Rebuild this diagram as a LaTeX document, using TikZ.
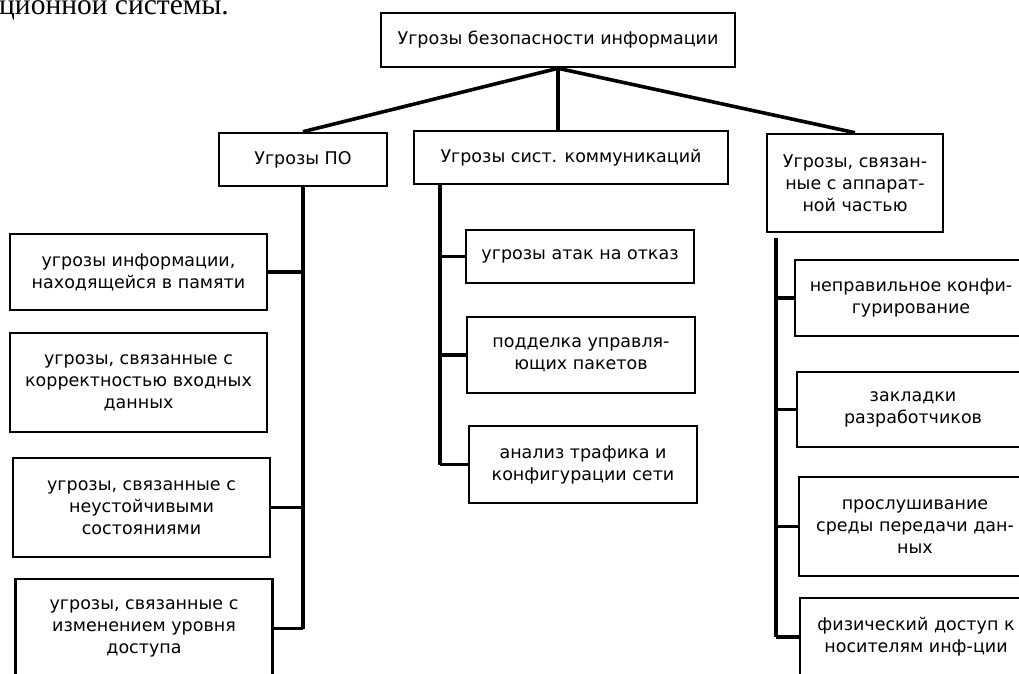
\documentclass[tikz,border=0pt]{standalone}
\usepackage{fontspec}
\setmainfont{DejaVu Sans}
\newfontfamily\pagefont{Liberation Serif}
\usetikzlibrary{positioning}

\begin{document}
\begin{tikzpicture}[
		x=1pt, y=-1pt,
		block/.style 2 args={
			draw,
			rectangle,
			line width=2.6pt,
			align=center,
			inner sep=2pt,
			minimum width=#1,
			minimum height=#2,
		},
		link/.style={line width=3.6pt},
		font=\fontsize{17.5}{22}\selectfont
		]
		\useasboundingbox (0,0) rectangle (1019,673);
		% Draw the cut text of the page
		\node[anchor=base west, inner sep=0pt, font=\pagefont\fontsize{29.5}{30}\selectfont] (pagetext) at (-1,14.5) {ционной системы.};
		% Draw the root and the three groups
		\node [block={354}{54}] (top) at (558,40) {Угрозы безопасности информации};
		\node [block={168}{53}] (po) at (303,159.5) {Угрозы ПО};
		\node [block={314}{53}] (comm) at (571,157.5) {Угрозы сист. коммуникаций};
		\node [block={176}{98}] (hw) at (855,183) {Угрозы, связан-\\ные с аппарат-\\ной частью};
		\draw[link] (top.south) -- (po.north);
		\draw[link] (top.south) -- (top.south |- comm.north);
		\draw[link] (top.south) -- (hw.north);
		% Draw the software threats
		\foreach \i/\x/\y/\h/\txt in {
			1/138.5/272/76/{угрозы информации,\\находящейся в памяти},
			2/138.5/382.5/99/{угрозы, связанные с\\корректностью входных\\данных},
			3/141.5/507.5/99/{угрозы, связанные с\\неустойчивыми\\состояниями},
			4/144/628.5/99/{угрозы, связанные с\\изменением уровня\\доступа}} {
			\node [block={257}{\h}] (po\i) at (\x,\y) {\txt};
		}
		\draw[link] (po.south) -- (po4.east -| po.south);
		\foreach \i in {1,3,4} {
			\draw[link] (po\i.east) -- (po\i.east -| po.south);
		}
		% Draw the communication threats
		\coordinate (cbus) at (440,184);
		\foreach \i/\x/\y/\h/\txt in {
			1/580/256.5/53/{угрозы атак на отказ},
			2/581/355/76/{подделка управля-\\ющих пакетов},
			3/583/464.5/77/{анализ трафика и\\конфигурации сети}} {
			\node [block={228}{\h}] (comm\i) at (\x,\y) {\txt};
			\draw[link] (comm\i.west -| cbus) -- (comm\i.west);
		}
		\draw[link] (cbus) -- (comm3.west -| cbus);
		% Draw the hardware threats
		\coordinate (hbus) at (776,238);
		\foreach \i/\x/\y/\h/\txt in {
			1/911/298/76/{неправильное конфи-\\гурирование},
			2/913/409.5/75/{закладки\\разработчиков},
			3/915/526.5/99/{прослушивание\\среды передачи дан-\\ных},
			4/916/637/78/{физический доступ к\\носителям инф-ции}} {
			\node [block={232}{\h}] (hw\i) at (\x,\y) {\txt};
			\draw[link] (hw\i.west -| hbus) -- (hw\i.west);
		}
		\draw[link] (hbus) -- (hw4.west -| hbus);
	\end{tikzpicture}
\end{document}
